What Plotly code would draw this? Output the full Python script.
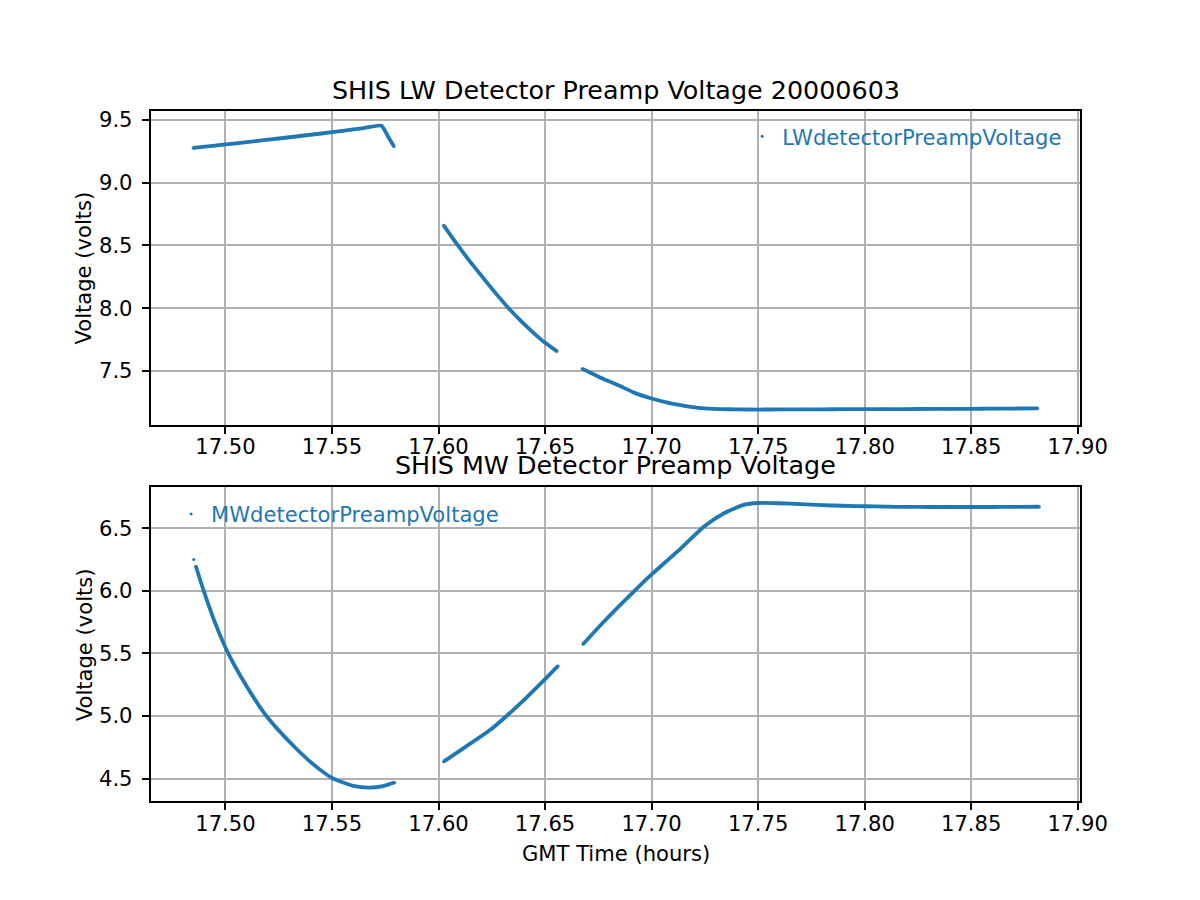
import plotly.graph_objects as go

# ---------------- data ----------------
LW_TIME = [
    17.4848, 17.4950, 17.5050, 17.5150, 17.5250, 17.5350, 17.5450, 17.5550, 17.5650, 17.5732, 17.5762, 17.5791,
    None,
    17.6024, 17.6091, 17.6150, 17.6216, 17.6270, 17.6329, 17.6390, 17.6451, 17.6496, 17.6556,
    None,
    17.6674, 17.6720, 17.6764, 17.6842, 17.6920, 17.7000, 17.7080, 17.7160, 17.7233, 17.7320, 17.7400,
    17.7500, 17.7600, 17.7700, 17.7800, 17.7900, 17.8000, 17.8100, 17.8200, 17.8300, 17.8400, 17.8500,
    17.8600, 17.8700, 17.8812,
]
LW_VOLT = [
    9.278, 9.296, 9.315, 9.334, 9.353, 9.373, 9.393, 9.414, 9.436, 9.455, 9.372, 9.290,
    None,
    8.661, 8.500, 8.367, 8.228, 8.116, 8.000, 7.893, 7.796, 7.730, 7.656,
    None,
    7.518, 7.480, 7.444, 7.387, 7.325, 7.280, 7.245, 7.220, 7.203, 7.196, 7.193,
    7.192, 7.193, 7.194, 7.194, 7.195, 7.195, 7.196, 7.196, 7.197, 7.197, 7.198,
    7.199, 7.200, 7.202,
]

MW_TIME = [
    17.4851,
    None,
    17.4861, 17.4898, 17.4950, 17.5013, 17.5095, 17.5192, 17.5320, 17.5410, 17.5500, 17.5599,
    17.5677, 17.5740, 17.5794,
    None,
    17.6024, 17.6123, 17.6248, 17.6318, 17.6404, 17.6498, 17.6561,
    None,
    17.6678, 17.6779, 17.6920, 17.7000, 17.7123, 17.7248, 17.7342, 17.7436, 17.7503, 17.7600, 17.7700,
    17.7800, 17.7900, 17.8000, 17.8100, 17.8200, 17.8300, 17.8400, 17.8500, 17.8600, 17.8700, 17.8820,
]
MW_VOLT = [
    6.250,
    None,
    6.197, 6.000, 5.750, 5.500, 5.250, 5.000, 4.760, 4.617, 4.505, 4.442,
    4.428, 4.440, 4.468,
    None,
    4.635, 4.749, 4.896, 4.998, 5.133, 5.290, 5.400,
    None,
    5.573, 5.759, 6.000, 6.131, 6.317, 6.516, 6.622, 6.689, 6.702, 6.700, 6.693,
    6.685, 6.680, 6.676, 6.673, 6.671, 6.670, 6.670, 6.670, 6.670, 6.671, 6.672,
]

X_TICKS = [17.50, 17.55, 17.60, 17.65, 17.70, 17.75, 17.80, 17.85, 17.90]
LW_TICKS = [7.5, 8.0, 8.5, 9.0, 9.5]
MW_TICKS = [4.5, 5.0, 5.5, 6.0, 6.5]

TITLE_LW = "SHIS LW Detector Preamp Voltage 20000603"
TITLE_MW = "SHIS MW Detector Preamp Voltage"
XLABEL = "GMT Time (hours)"
YLABEL = "Voltage (volts)"
NAME_LW = "LWdetectorPreampVoltage"
NAME_MW = "MWdetectorPreampVoltage"

# ---------------- styling ----------------
BLUE = "#1f77b4"
FONT = "DejaVu Sans"
OFF = 8                      # browser body margin
W, H = 1200 - 2 * OFF, 900 - 2 * OFF
XS, XB = 0.977, -0.8         # observed horizontal mapping page -> picture
FS_TICK = 21.1
FS_TITLE = 25.4
LW_PX = 1.67

def page_x(target):
    return (target - XB) / XS

def px(target):
    return (page_x(target) - OFF) / W

def py(sy):
    return 1 - (sy - OFF) / H

fig = go.Figure()

line_style = dict(color=BLUE, width=3.8, shape="spline", smoothing=0.6)

# LW (top)
fig.add_trace(go.Scatter(x=LW_TIME, y=LW_VOLT, mode="lines", line=line_style,
                         showlegend=False, xaxis="x", yaxis="y", hoverinfo="skip"))
fig.add_trace(go.Scatter(x=LW_TIME, y=LW_VOLT, mode="markers", marker=dict(color=BLUE, size=3),
                         name=NAME_LW, legend="legend", xaxis="x", yaxis="y"))
# MW (bottom)
fig.add_trace(go.Scatter(x=MW_TIME, y=MW_VOLT, mode="lines", line=line_style,
                         showlegend=False, xaxis="x2", yaxis="y2", hoverinfo="skip"))
fig.add_trace(go.Scatter(x=MW_TIME, y=MW_VOLT, mode="markers", marker=dict(color=BLUE, size=3),
                         name=NAME_MW, legend="legend2", xaxis="x2", yaxis="y2"))

axis_common = dict(
    showline=True, linecolor="black", linewidth=LW_PX, mirror=True,
    showgrid=True, gridcolor="#b0b0b0", gridwidth=LW_PX,
    ticks="outside", ticklen=7.3, tickwidth=LW_PX, tickcolor="black",
    zeroline=False, tickfont=dict(family=FONT, size=FS_TICK, color="black"),
)

XRANGE = [17.4650, 17.9012]
xdom = [px(150), px(1080)]

fig.update_layout(
    width=W, height=H, autosize=False,
    margin=dict(l=0, r=0, t=0, b=0),
    paper_bgcolor="white", plot_bgcolor="white",
    font=dict(family=FONT, size=FS_TICK, color="black"),
    xaxis=dict(domain=xdom, anchor="y", range=XRANGE, tickvals=X_TICKS, tickformat=".2f",
               ticklabelstandoff=-5, **axis_common),
    yaxis=dict(domain=[py(423), py(108)], anchor="x", range=[7.072, 9.575], tickvals=LW_TICKS,
               tickformat=".1f", ticklabelstandoff=5, **axis_common),
    xaxis2=dict(domain=xdom, anchor="y2", range=XRANGE, tickvals=X_TICKS, tickformat=".2f",
                ticklabelstandoff=-5, **axis_common),
    yaxis2=dict(domain=[py(801), py(486)], anchor="x2", range=[4.318, 6.827], tickvals=MW_TICKS,
                tickformat=".1f", ticklabelstandoff=5, **axis_common),
    legend=dict(x=(760 - OFF) / W, y=py(113.5), xanchor="left", yanchor="top", bgcolor="rgba(0,0,0,0)",
                font=dict(family=FONT, size=FS_TICK, color=BLUE), borderwidth=0),
    legend2=dict(x=(175 - OFF) / W, y=py(492.5), xanchor="left", yanchor="top", bgcolor="rgba(0,0,0,0)",
                 font=dict(family=FONT, size=FS_TICK, color=BLUE), borderwidth=0),
)

ann = [
    dict(text=TITLE_LW, x=px(615), y=py(87), size=FS_TITLE),
    dict(text=TITLE_MW, x=px(615), y=py(464), size=FS_TITLE),
    dict(text=XLABEL, x=px(615), y=py(853), size=FS_TICK),
]
for a in ann:
    fig.add_annotation(text=a["text"], x=a["x"], y=a["y"], xref="paper", yref="paper",
                       xanchor="center", yanchor="middle", showarrow=False,
                       font=dict(family=FONT, size=a["size"], color="black"))
for yc in (265.5, 643.5):
    fig.add_annotation(text=YLABEL, x=px(83), y=py(yc), xref="paper", yref="paper",
                       xanchor="center", yanchor="middle", showarrow=False, textangle=-90,
                       font=dict(family=FONT, size=FS_TICK, color="black"))

fig.write_html("out.html", config={"displayModeBar": False})
